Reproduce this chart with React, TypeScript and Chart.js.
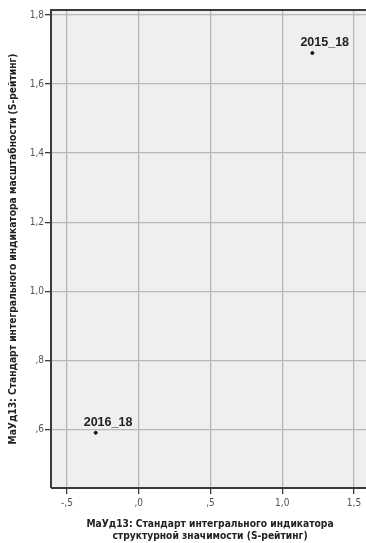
import React, { useEffect, useRef } from "react";
import { Chart, registerables } from "chart.js";

Chart.register(...registerables);

const pointLabels = ["2015_18", "2016_18"];
const xValues = [1.21, -0.3];
const yValues = [1.69, 0.59];

const xTickValues = [-0.5, 0, 0.5, 1.0, 1.5];
const xTickLabels = ["-,5", ",0", ",5", "1,0", "1,5"];
const yTickValues = [0.6, 0.8, 1.0, 1.2, 1.4, 1.6, 1.8];
const yTickLabels = [",6", ",8", "1,0", "1,2", "1,4", "1,6", "1,8"];

const xTitleLines = ["МаУд13: Стандарт интегрального индикатора", "структурной значимости (S-рейтинг)"];
const yTitle = "МаУд13: Стандарт интегрального индикатора масштабности (S-рейтинг)";

const TITLE_FONT = "bold 10.2px 'DejaVu Sans Condensed', 'Liberation Sans', sans-serif";
const LABEL_FONT = "bold 12.5px 'Liberation Sans', Arial, sans-serif";
const TICK_FAMILY = "'DejaVu Sans Condensed', 'Liberation Sans', sans-serif";

export default function App() {
  const ref = useRef<HTMLCanvasElement | null>(null);

  useEffect(() => {
    document.body.style.margin = "0";
    const canvas = ref.current!;
    const bgPlugin = {
      id: "bgPlugin",
      beforeDraw(chart: any) {
        const { ctx, chartArea: a } = chart;
        ctx.save();
        ctx.fillStyle = "#efefef";
        ctx.fillRect(a.left, a.top, a.right - a.left, a.bottom - a.top);
        ctx.restore();
      },
      afterDraw(chart: any) {
        const { ctx, chartArea: a } = chart;
        ctx.save();
        ctx.strokeStyle = "#3a3a3a";
        ctx.lineWidth = 2;
        ctx.beginPath();
        ctx.moveTo(a.left, a.bottom);
        ctx.lineTo(a.left, a.top);
        ctx.lineTo(a.right, a.top);
        ctx.stroke();
        ctx.beginPath();
        ctx.moveTo(a.left, a.bottom);
        ctx.lineTo(a.right, a.bottom);
        ctx.stroke();
        // titles
        ctx.fillStyle = "#222";
        ctx.font = TITLE_FONT;
        ctx.textAlign = "center";
        ctx.textBaseline = "middle";
        const cx = 210;
        ctx.fillText(xTitleLines[0], cx, 524);
        ctx.fillText(xTitleLines[1], cx, 536);
        ctx.translate(13, (a.top + a.bottom) / 2);
        ctx.rotate(-Math.PI / 2);
        ctx.fillText(yTitle, 0, 0);
        ctx.restore();
        // point labels
        const meta = chart.getDatasetMeta(0);
        ctx.save();
        ctx.font = LABEL_FONT;
        ctx.fillStyle = "#222";
        ctx.textAlign = "left";
        ctx.textBaseline = "alphabetic";
        meta.data.forEach((el: any, i: number) => {
          ctx.fillText(pointLabels[i], el.x - 12, el.y - 7);
        });
        ctx.restore();
      },
    };

    const chart = new Chart(canvas, {
      type: "scatter",
      data: {
        datasets: [
          {
            data: xValues.map((x, i) => ({ x, y: yValues[i] })),
            backgroundColor: "#111",
            borderColor: "#111",
            pointRadius: 1.5,
            pointHoverRadius: 1.5,
          },
        ],
      },
      options: {
        responsive: false,
        animation: false,
        layout: { padding: { top: 10, right: 0, left: 0, bottom: 0 } },
        plugins: { legend: { display: false }, tooltip: { enabled: false } },
        scales: {
          x: {
            type: "linear",
            min: -0.6115,
            max: 1.587,
            afterBuildTicks: (s: any) => {
              s.ticks = xTickValues.map((v) => ({ value: v }));
            },
            afterFit: (s: any) => {
              s.height = 55;
            },
            ticks: {
              callback: (v: any) => {
                const i = xTickValues.findIndex((t) => Math.abs(t - v) < 1e-6);
                return i >= 0 ? xTickLabels[i] : "";
              },
              color: "#555",
              font: { size: 10, family: TICK_FAMILY },
              padding: 3,
              maxRotation: 0,
              autoSkip: false,
            },
            grid: { color: "#b8b8b8", tickColor: "#3a3a3a", tickLength: 6, lineWidth: 1.3 },
            border: { display: false },
          },
          y: {
            type: "linear",
            min: 0.43,
            max: 1.8145,
            afterBuildTicks: (s: any) => {
              s.ticks = yTickValues.map((v) => ({ value: v }));
            },
            afterFit: (s: any) => {
              s.width = 51;
            },
            ticks: {
              callback: (v: any) => {
                const i = yTickValues.findIndex((t) => Math.abs(t - v) < 1e-6);
                return i >= 0 ? yTickLabels[i] : "";
              },
              color: "#555",
              font: { size: 10, family: TICK_FAMILY },
              padding: 1,
              autoSkip: false,
            },
            grid: { color: "#b8b8b8", tickColor: "#3a3a3a", tickLength: 6, lineWidth: 1.3 },
            border: { display: false },
          },
        },
      },
      plugins: [bgPlugin],
    } as any);
    return () => chart.destroy();
  }, []);

  return (
    <div style={{ position: "absolute", left: 0, top: 0, width: 366, height: 543, overflow: "hidden", background: "#fff" }}>
      <canvas ref={ref} width={369} height={543} style={{ display: "block" }} />
    </div>
  );
}
